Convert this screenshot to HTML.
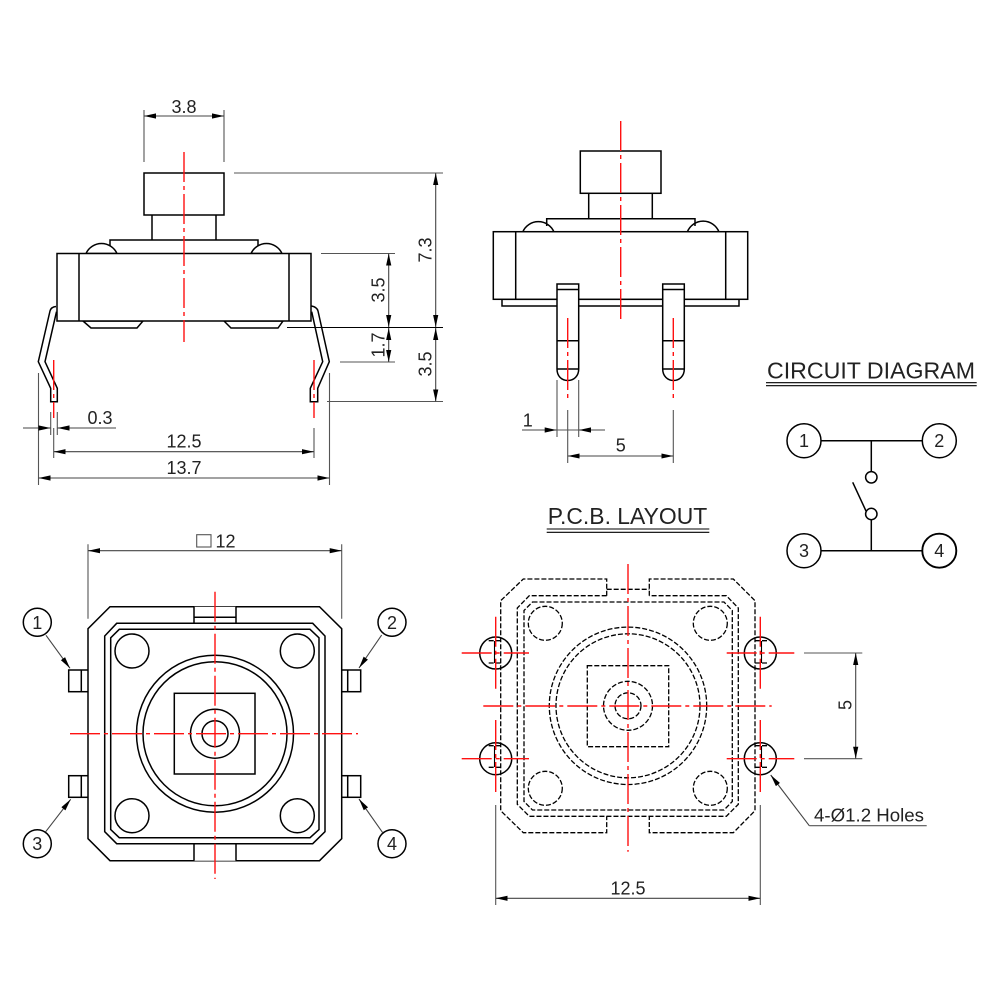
<!DOCTYPE html>
<html><head><meta charset="utf-8"><title>Tact switch drawing</title>
<style>
html,body{margin:0;padding:0;background:#fff}
svg{display:block}
text{font-family:"Liberation Sans",sans-serif;fill:#222;font-size:18px}
.b{fill:#fff;stroke:#000;stroke-width:1.5}
.n{fill:none;stroke:#000;stroke-width:1.5}
.h{fill:none;stroke:#000;stroke-width:1.3;stroke-dasharray:5 2}
.d{fill:none;stroke:#555;stroke-width:1.1}
.a{fill:none;stroke:#444;stroke-width:1.1;marker-end:url(#ar)}
.aa{fill:none;stroke:#444;stroke-width:1.1;marker-start:url(#ar);marker-end:url(#ar)}
.r{fill:none;stroke:#f11;stroke-width:1.4;stroke-dasharray:30 4 4 4}
</style></head><body>
<svg width="1000" height="1000" viewBox="0 0 1000 1000" xmlns="http://www.w3.org/2000/svg">
<defs><marker id="ar" markerUnits="userSpaceOnUse" markerWidth="12" markerHeight="6" refX="12" refY="3" orient="auto-start-reverse"><path d="M0 .4L12 3L0 5.6Z" fill="#000"/></marker></defs>
<rect width="1000" height="1000" fill="#fff"/>

<!-- Front view -->
<path class="b" d="M86 253.5A17 17 0 0 1 117 253.5Z"/><path class="b" d="M251 253.5A17 17 0 0 1 282 253.5Z"/>
<path class="n" d="M110 246V240H258V246"/>
<rect class="b" x="144" y="173" width="80" height="42"/>
<path class="n" d="M152 215V240M216 215V240"/>
<path class="b" d="M83 321L91 328H137L143 321ZM224 321L231 328H278L283 321Z"/>
<rect class="b" x="57" y="253.5" width="254" height="67.5"/>
<path class="n" d="M79 253.5V321M289 253.5V321"/>
<path class="n" d="M56 306.5Q51 307 50 311L38.3 361.7L50.7 388.3V401.7H57.3V388.3L45 361.7L56.5 311.7"/>
<path class="n" d="M311.5 306Q317 307 318 311L329.3 361.7L317.7 388.3V401.7H310.3V388.3L322.7 361.7L311.7 311.7"/>
<path class="r" d="M184 152V342"/>
<path class="r" d="M53.7 360V418M314 360V418" stroke-dasharray="26 3 3 3"/>

<path class="d" d="M144 110V162M224 110V162M234 173H443M321 253.5H395" />
<path class="n" d="M287 327.5H443" style="stroke-width:1.1"/>
<path class="d" d="M340 362H395M327 401.5H443M50.7 412V435M57.3 412V435M53.7 428V458M314 428V458M38.5 373V485M329.5 373V485"/>
<path class="aa" d="M144 116H224"/>
<path class="aa" d="M435.7 173V327"/><path class="aa" d="M435.7 328V401.5"/>
<path class="aa" d="M388.7 253.5V327"/><path class="aa" d="M388.7 328V362"/>
<path class="a" d="M23 428H50.5"/><path class="a" d="M116 428H57.5"/>
<path class="aa" d="M53.7 451.7H314"/><path class="aa" d="M38.5 478H329.5"/>
<text x="184" y="113" text-anchor="middle">3.8</text>
<text x="100" y="424" text-anchor="middle">0.3</text>
<text x="184" y="447.5" text-anchor="middle">12.5</text>
<text x="184" y="474" text-anchor="middle">13.7</text>
<text transform="translate(431.5 250) rotate(-90)" text-anchor="middle">7.3</text>
<text transform="translate(431.5 364) rotate(-90)" text-anchor="middle">3.5</text>
<text transform="translate(384.5 290) rotate(-90)" text-anchor="middle">3.5</text>
<text transform="translate(384.5 345) rotate(-90)" text-anchor="middle">1.7</text>

<!-- Side view -->
<path class="b" d="M522.7 232A17 17 0 0 1 554 232Z"/><path class="b" d="M687.3 232A17 17 0 0 1 719 232Z"/>
<path class="n" d="M546.7 226V218.7H695V226"/>
<rect class="b" x="580.3" y="151" width="80.7" height="42.3"/>
<path class="n" d="M588.7 193.3V218.7M652.3 193.3V218.7"/>
<rect class="b" x="502" y="299.3" width="237" height="6.7"/>
<rect class="b" x="493.3" y="231.7" width="254.4" height="67.6"/>
<path class="n" d="M515.7 231.7V299.3M725.7 231.7V299.3"/>
<path class="b" d="M557 284H578.7V369C578.7 376 574 380.5 567.8 380.5C561.5 380.5 557 376 557 369Z"/>
<path class="b" d="M662.7 284H684.3V369C684.3 376 679.5 380.5 673.5 380.5C667.5 380.5 662.7 376 662.7 369Z"/>
<path class="n" d="M557 289.5H578.7M557 340.7H578.7M557 369H578.7M662.7 289.5H684.3M662.7 340.7H684.3M662.7 369H684.3"/>
<path class="r" d="M620.7 121V320"/>
<path class="r" d="M567.7 318V400M673.3 318V400" stroke-dasharray="50 3 3 3"/>
<path class="d" d="M557 380V437M578.7 380V437M567.7 410V463M673.3 410V463M557 430H578.7"/>
<path class="a" d="M522 430H556.7"/><path class="a" d="M605 430H579"/>
<path class="aa" d="M567.7 456H673.3"/>
<text x="527.7" y="426.5" text-anchor="middle">1</text>
<text x="620.7" y="451.7" text-anchor="middle">5</text>

<!-- Circuit diagram -->
<text x="767" y="378.3" textLength="208" lengthAdjust="spacingAndGlyphs" style="font-size:23px">CIRCUIT DIAGRAM</text>
<path class="n" d="M766 382.7H976.7M766 385.7H976.7" style="stroke-width:1.1"/>
<circle class="n" cx="804" cy="440.7" r="17"/><circle class="n" cx="939.3" cy="440.7" r="17"/>
<circle class="n" cx="804" cy="550.7" r="17"/><circle class="n" cx="939.3" cy="550.7" r="17" style="stroke-width:1.9"/>
<path class="n" d="M821 440.7H922.3M871.3 440.7V471.7M871.3 519.7V550.7M821 550.7H922.3M852.7 482.3L866 511"/>
<circle class="n" cx="871.3" cy="477.3" r="5.7"/><circle class="n" cx="871.3" cy="514" r="5.7"/>
<text x="804" y="447" text-anchor="middle">1</text><text x="939.3" y="447" text-anchor="middle">2</text>
<text x="804" y="557" text-anchor="middle">3</text><text x="939.3" y="557" text-anchor="middle">4</text>

<!-- Top view -->
<rect class="b" x="68.7" y="670" width="20" height="21.7"/><rect class="b" x="68.7" y="775.7" width="20" height="21.6"/>
<rect class="b" x="341" y="670" width="19.7" height="21.7"/><rect class="b" x="341" y="775.7" width="19.7" height="21.6"/>
<path class="n" d="M81.3 670V691.7M81.3 775.7V797.3M347.7 670V691.7M347.7 775.7V797.3"/>
<path class="b" d="M110 606.7H319.5L341.7 628.7V838.7L319.5 860.7H110L88 838.7V628.7Z"/>
<path class="n" d="M116.7 623.3H312.7L325 636V831.7L312.7 843.7H116.7L104.7 831.7V636Z"/>
<path class="n" d="M119.3 629.3H310L319 637.8V829.5L310 837.7H119.3L110.7 829.5V637.8Z"/>
<path class="b" d="M194 606.7V623.3H236V606.7"/><path class="b" d="M194 860.7V843.7H236V860.7"/>
<path class="n" d="M194 617.3H236"/>
<circle class="n" cx="132" cy="651" r="17"/><circle class="n" cx="297.3" cy="651" r="17"/>
<circle class="n" cx="132" cy="815.7" r="17"/><circle class="n" cx="297.3" cy="815.7" r="17"/>
<circle class="n" cx="215" cy="733.7" r="78.5"/><circle class="n" cx="215" cy="733.7" r="72"/>
<rect class="n" x="174.3" y="693.3" width="80.7" height="80.7"/>
<circle class="n" cx="215" cy="733.7" r="24.5"/><circle class="n" cx="215" cy="733.7" r="13"/>
<path class="r" d="M70 733.7H358M215 591.7V879"/>
<circle class="n" cx="37.3" cy="622.3" r="14"/><circle class="n" cx="392" cy="622.3" r="14"/>
<circle class="n" cx="37.3" cy="843.7" r="14"/><circle class="n" cx="392" cy="843.7" r="14"/>
<path class="a" d="M46 635.3L70 668.3"/><path class="a" d="M381.7 635L359 668"/>
<path class="a" d="M45.7 831.7L70.7 799.3"/><path class="a" d="M382.7 832.7L359 799"/>
<text x="37.3" y="629" text-anchor="middle">1</text><text x="392" y="629" text-anchor="middle">2</text>
<text x="37.3" y="850" text-anchor="middle">3</text><text x="392" y="850" text-anchor="middle">4</text>
<path class="d" d="M88 544.3V618.7M341.7 544.3V618.7"/>
<path class="aa" d="M88 550.7H341.7"/>
<rect class="d" x="196.7" y="534.7" width="14.3" height="12.3"/>
<text x="215.5" y="547.7">12</text>

<!-- PCB layout -->
<text x="547.7" y="524" textLength="159.6" lengthAdjust="spacingAndGlyphs" style="font-size:23px">P.C.B. LAYOUT</text>
<path class="n" d="M546.7 529H709.3M546.7 532.3H709.3" style="stroke-width:1.1"/>
<path class="h" d="M606.7 595.7V579H523.3L500.7 600.7V810.7L523.3 832.7H606.7V816.3"/>
<path class="h" d="M649.3 595.7V579H733.3L755 600.7V810.7L733.3 832.7H649.3V816.3"/>
<path class="h" d="M606.7 595.7H529.3L517.3 608V804.3L529.3 816.3H726.3L738.3 804.3V608L726.3 595.7H649.3"/>
<path class="h" d="M532.5 602H724L732.3 610.5V801.5L724 810H532.5L524 801.5V610.5Z"/>
<path class="h" d="M606.7 589.3H649.3"/>
<path class="h" d="M488.7 640.7H500.7M488.7 663H500.7M488.7 745.7H500.7M488.7 767.3H500.7M755 640.7H767.3M755 663H767.3M755 745.7H767.3M755 767.3H767.3"/>
<path class="n" d="M494.5 641V663M494.5 746V767M761.5 641V663M761.5 746V767" style="stroke-width:1.1"/>
<circle class="h" cx="545.3" cy="623.3" r="17"/><circle class="h" cx="710.3" cy="623.3" r="17"/>
<circle class="h" cx="545.3" cy="788.3" r="17"/><circle class="h" cx="710.3" cy="788.3" r="17"/>
<circle class="h" cx="628" cy="705.8" r="78.7"/><circle class="h" cx="628" cy="705.8" r="72"/>
<rect class="h" x="587.3" y="665.7" width="81.4" height="81"/>
<circle class="h" cx="628" cy="705.8" r="24.5"/><circle class="h" cx="628" cy="705.8" r="13"/>
<circle class="n" cx="495.7" cy="653" r="16"/><circle class="n" cx="760.3" cy="653" r="16"/>
<circle class="n" cx="495.7" cy="758.7" r="16"/><circle class="n" cx="760.3" cy="758.7" r="16"/>
<path class="r" d="M483.3 706H771.7M628 564V851.7"/>
<path class="r" d="M461.7 653H529M495.7 616.7V691.7M461.7 758.7H529M495.7 720V795M726.7 653H794.3M760.3 616.7V691.7M726.7 758.7H794.3M760.3 720V795" stroke-dasharray="44 3 3 3"/>
<path class="d" d="M804 653H862.3M804 758.7H862.3M495.7 805V905M760.3 805V905"/>
<path class="aa" d="M855.7 653V758.7"/>
<path class="aa" d="M495.7 898.3H760.3"/>
<text transform="translate(851.5 705) rotate(-90)" text-anchor="middle">5</text>
<text x="628" y="894.3" text-anchor="middle">12.5</text>
<path class="d" d="M926.7 825.7H809.3"/>
<path class="a" d="M809.3 825.7L770.7 775"/>
<text x="814" y="821.7" textLength="110" lengthAdjust="spacingAndGlyphs">4-Ø1.2 Holes</text>
</svg>
</body></html>
